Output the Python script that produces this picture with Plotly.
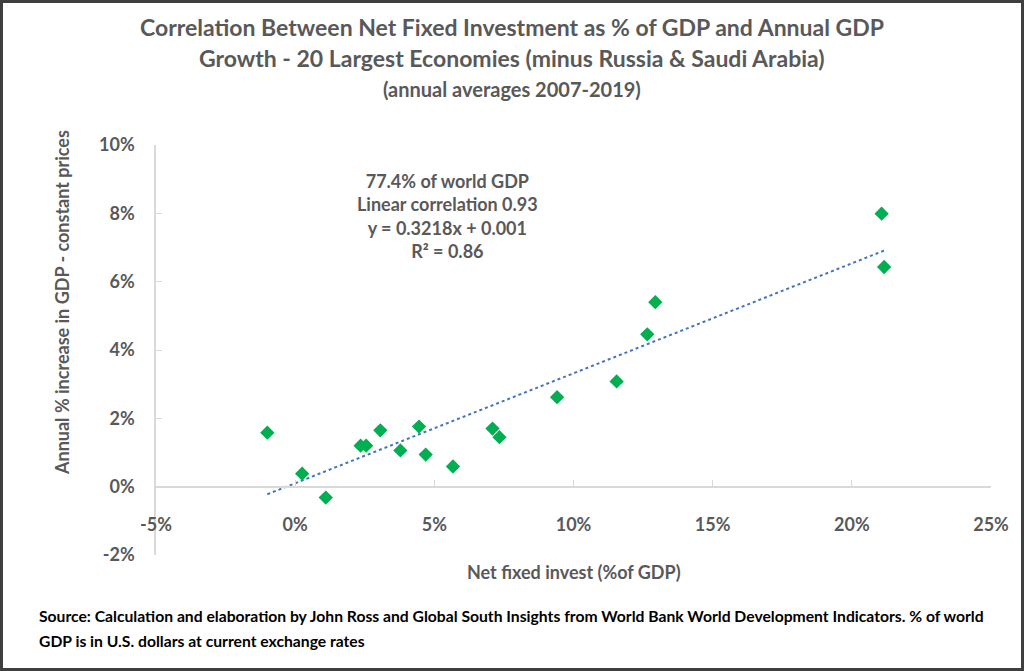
import plotly.graph_objects as go

# ---- data (fractions) ----
net_fixed_invest = [-0.010, 0.0025, 0.011, 0.0235, 0.0255, 0.0306, 0.0378, 0.0445,
                    0.0469, 0.0567, 0.0709, 0.0734, 0.0941, 0.1155, 0.1265, 0.1294,
                    0.2107, 0.2116]
gdp_growth = [0.0158, 0.0038, -0.0032, 0.0120, 0.0120, 0.0165, 0.0106, 0.0176,
              0.0094, 0.0059, 0.0170, 0.0145, 0.0262, 0.0308, 0.0446, 0.0540,
              0.0799, 0.0643]
trend_slope = 0.3218
trend_intercept = 0.001

x_tick_vals = [-0.05, 0.0, 0.05, 0.10, 0.15, 0.20, 0.25]
x_tick_text = ["-5%", "0%", "5%", "10%", "15%", "20%", "25%"]
y_tick_vals = [-0.02, 0.0, 0.02, 0.04, 0.06, 0.08, 0.10]
y_tick_text = ["-2%", "0%", "2%", "4%", "6%", "8%", "10%"]

title_lines = ["Correlation Between Net Fixed Investment as % of GDP and Annual GDP",
               "Growth - 20 Largest Economies (minus Russia & Saudi Arabia)",
               "(annual averages 2007-2019)"]
stats_lines = ["77.4% of world GDP", "Linear correlation 0.93",
               "y = 0.3218x + 0.001", "R² = 0.86"]
x_title = "Net fixed invest (%of GDP)"
y_title = "Annual % increase in GDP - constant prices"
source_lines = ["Source: Calculation and elaboration by John Ross and Global South Insights from World Bank World Development Indicators. % of world",
                "GDP is in U.S. dollars at current exchange rates"]

x_range = [-0.05, 0.25]
y_range = [-0.02, 0.10]

# ---- layout geometry ----
W, H = 1024, 671
L, R, T, B = 156, 33, 145, 116
PW, PH = W - L - R, H - T - B


def px(x):
    return (x - L) / PW


def py(y):
    return (H - B - y) / PH


FONT = "Lato"
GREY = "#595959"

fig = go.Figure()

tx = [min(net_fixed_invest), max(net_fixed_invest)]
ty = [trend_slope * v + trend_intercept for v in tx]
fig.add_trace(go.Scatter(x=tx, y=ty, mode="lines",
                         line=dict(color="#4472C4", width=2, dash="dot"),
                         hoverinfo="skip", showlegend=False))
fig.add_trace(go.Scatter(x=net_fixed_invest, y=gdp_growth, mode="markers",
                         marker=dict(symbol="diamond", size=11, color="#00B050"),
                         showlegend=False))

zero_pos = (0 - y_range[0]) / (y_range[1] - y_range[0])

fig.update_layout(
    width=W, height=H,
    margin=dict(l=L, r=R, t=T, b=B),
    paper_bgcolor="white", plot_bgcolor="white",
    font=dict(family=FONT, color=GREY),
    showlegend=False,
    xaxis=dict(range=x_range, tickvals=x_tick_vals, ticktext=x_tick_text,
               showgrid=False, zeroline=False, showline=True,
               linecolor="#D9D9D9", linewidth=1.5,
               ticks="inside", ticklen=6, tickcolor="#D9D9D9",
               anchor="free", position=zero_pos, ticklabelstandoff=22,
               tickfont=dict(family=FONT, size=18, color=GREY, weight="bold")),
    yaxis=dict(range=y_range, tickvals=y_tick_vals, ticktext=y_tick_text,
               showgrid=False, zeroline=False, showline=True,
               linecolor="#D9D9D9", linewidth=1.5,
               ticks="inside", ticklen=6, tickcolor="#D9D9D9",
               ticklabelstandoff=16,
               tickfont=dict(family=FONT, size=18, color=GREY, weight="bold")),
)

ann = []
title_y = [27, 58, 89]
title_sz = [23, 23, 20]
for t, yy, s in zip(title_lines, title_y, title_sz):
    ann.append(dict(text=t, xref="paper", yref="paper", x=px(512), y=py(yy),
                    xanchor="center", yanchor="middle", showarrow=False,
                    font=dict(family=FONT, size=s, color=GREY, weight="bold")))

ann.append(dict(text="<br>".join(stats_lines), xref="paper", yref="paper",
                x=px(447), y=py(216), xanchor="center", yanchor="middle",
                showarrow=False, align="center",
                font=dict(family=FONT, size=18, color=GREY, weight="bold")))

ann.append(dict(text=x_title, xref="paper", yref="paper", x=px(574), y=py(572),
                xanchor="center", yanchor="middle", showarrow=False,
                font=dict(family=FONT, size=18, color=GREY, weight="bold")))
ann.append(dict(text=y_title, xref="paper", yref="paper", x=px(62), y=py(303),
                xanchor="center", yanchor="middle", showarrow=False, textangle=-90,
                font=dict(family=FONT, size=18, color=GREY, weight="bold")))
for t, yy in zip(source_lines, [616, 641]):
    ann.append(dict(text=t, xref="paper", yref="paper", x=px(37), y=py(yy),
                    xanchor="left", yanchor="middle", showarrow=False, align="left",
                    font=dict(family=FONT, size=15.7, color="#000000", weight="bold")))
fig.update_layout(annotations=ann)

fig.add_shape(type="rect", xref="paper", yref="paper",
              x0=px(1.5), x1=px(W - 1.5), y0=py(H - 1.5), y1=py(1.5),
              line=dict(color="#3F3F3F", width=3), fillcolor="rgba(0,0,0,0)")

fig.write_html("out.html", config={"displayModeBar": False},
               post_script="document.body.style.margin='0';document.body.style.overflow='hidden';")
